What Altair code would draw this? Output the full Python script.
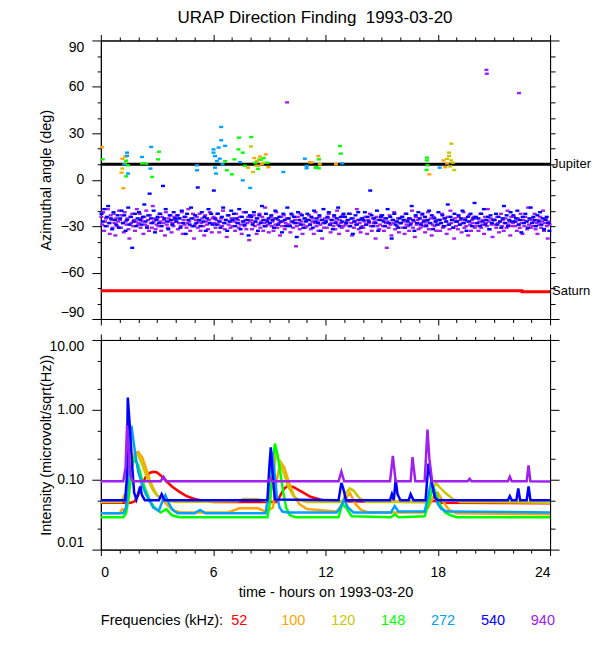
import altair as alt
import pandas as pd

TITLE = "URAP Direction Finding\u00a0 1993-03-20"
FONT = "Liberation Sans"
FREQS = ["52", "100", "120", "148", "272", "540", "940"]
COLORS = ["#ff0000", "#ffa500", "#c8c800", "#00ff00", "#00a0ff", "#0000ff", "#a020f0"]
LEGEND_TITLE = "Frequencies (kHz):"
HOUR_TICKS = list(range(0, 25))
ANGLE_TICKS = list(range(-90, 91, 10))
INT_TICKS = [0.01, 0.02, 0.05, 0.1, 0.2, 0.5, 1, 2, 5, 10]

# ---------------- top panel: planets ----------------
JUPITER_T = [0, 24]
JUPITER_A = [10, 10]
SATURN_T = [0, 22.5, 24]
SATURN_A = [-71.7, -72.4, -72.4]
PLANET_T = [24, 24]
PLANET_A = [10, -72.1]
PLANET_NAMES = ["Jupiter", "Saturn"]

# ---------------- top panel: sparse direction-finding points ----------------
A100_T = [0.07, 1.15, 1.1, 1.2, 1.3, 7.86, 8.2, 8.35, 8.5, 8.81, 8.95, 8.6, 8.4, 11.17, 11.62, 11.7, 11.26, 12.56, 17.55, 18.31, 18.4, 18.5]
A100_A = [21, 13.6, 4.6, -5.5, 15, 7.8, 14, 12, 15, 16.4, 8.1, 10, 9, 11.3, 15.3, 10, 11.2, 10, 3.5, 12.5, 8.1, 10.5]
A120_T = [1.15, 1.3, 8.02, 8.13, 8.3, 8.45, 8.7, 18.72, 18.6, 18.6, 18.72, 18.8, 18.88, 18.66, 18.5]
A120_A = [7.2, 11, 21.5, 5, 9, 13, 11, 23.3, 17.5, 15.3, 12.5, 11, 6.3, 8.6, 13.5]
A148_T = [0.1, 1.35, 1.35, 1.45, 2.43, 2.2, 2.74, 3.06, 3.11, 6.64, 6.73, 7.0, 7.14, 7.35, 7.58, 7.38, 8.03, 7.7, 8.25, 8.55, 8.4, 8.7, 8.9, 11.47, 11.65, 11.65, 11.53, 12.77, 12.82, 17.42, 17.42, 17.45, 17.4]
A148_A = [13.2, 2.2, 12.3, 9.3, 10.4, 10.5, 1.8, 13.2, 18.1, 12, 6.1, 3.5, 13.2, 19.6, 17.5, 27.2, 27.6, 9, 11, 13, 7, 14, 11, 7.8, 13.2, 7.4, 8.1, 21.8, 16.9, 14.3, 12.5, 9.3, 6.3]
A272_T = [1.4, 1.4, 1.45, 1.25, 2.2, 2.69, 2.65, 5.14, 5.14, 6.02, 6.02, 6.1, 6.2, 6.1, 6.15, 6.43, 6.43, 6.64, 6.29, 6.35, 6.5, 7.58, 7.98, 7.44, 9.75, 10.9, 10.99, 11.0, 12.9, 18.1]
A272_A = [17.5, 15.4, 4.0, 10, 14.7, 21.2, 7.2, 9.3, 6.1, 19.6, 17.5, 15.3, 12.1, 7.8, 4, 34.1, 25.5, 21.9, 20.8, 13.6, 10, -0.4, -5.3, 11.4, 5, 13.6, 7.4, 9, 10.6, 7.8]

# ---------------- top panel: dense 540 kHz and 940 kHz bands, one row per hour ----------------
A540_ROWS = [
    [-22, -27, -19, -30, -24, -17, -28, -25, -32, -21, -26, -29, -23, -31],
    [-25, -20, -28, -23, -33, -26, -18, -29, -24, -44, -27, -22, -30, -25],
    [-21, -26, -29, -24, -16, -27, -31, -23, -9, -25, -28, -20, -34, -26],
    [-24, -28, -22, -30, -4, -25, -19, -27, -32, -23, -26, -29, -21, -25],
    [-27, -23, -25, -31, -20, -28, -24, -35, -22, -26, -29, -18, -25, -30],
    [-23, -28, -5, -26, -30, -21, -27, -24, -33, -25, -19, -28, -22, -29],
    [-7, -25, -29, -22, -27, -31, -24, -18, -28, -26, -33, -23, -27, -20],
    [-26, -22, -30, -25, -28, -19, -32, -24, -27, -29, -21, -26, -36, -23],
    [-24, -29, -21, -27, -25, -33, -23, -28, -17, -26, -30, -22, -27, -25],
    [-28, -23, -26, -31, -20, -25, -29, -24, -27, -34, -22, -26, -30, -18],
    [-25, -30, -22, -27, -24, -28, -37, -21, -26, -29, -23, -31, -25, -27],
    [-22, -26, -29, -24, -31, -20, -27, -25, -28, -23, -33, -26, -19, -28],
    [-27, -24, -21, -29, -26, -32, -23, -28, -25, -18, -30, -24, -27, -22],
    [-24, -28, -26, -22, -30, -25, -35, -27, -23, -29, -21, -26, -31, -25],
    [-26, -21, -29, -24, -27, -7, -23, -30, -25, -28, -20, -33, -26, -24],
    [-23, -27, -30, -25, -19, -28, -24, -38, -26, -22, -29, -27, -31, -25],
    [-28, -24, -26, -31, -22, -27, -25, -29, -17, -26, -33, -23, -28, -21],
    [-25, -29, -22, -27, -24, -30, -26, -20, -28, -23, -32, -25, -27, -29],
    [-21, -26, -28, -23, -30, -25, -27, -16, -29, -24, -26, -31, -22, -27],
    [-27, -23, -29, -25, -20, -28, -26, -33, -24, -27, -22, -30, -25, -15],
    [-24, -28, -25, -30, -22, -27, -19, -29, -26, -24, -32, -23, -28, -26],
    [-26, -22, -29, -24, -27, -31, -25, -17, -28, -23, -30, -26, -21, -27],
    [-23, -27, -25, -20, -29, -26, -34, -24, -28, -22, -27, -31, -25, -18],
    [-28, -24, -26, -30, -23, -27, -21, -29, -25, -32, -26, -24, -28, -33],
]
A940_ROWS = [
    [-24, -29, -21, -33, -27, -25, -30, -19, -28, -35, -23, -26, -31, -22, -28, -36, -25, -30, -27, -20],
    [-26, -31, -23, -28, -34, -21, -27, -29, -25, -32, -38, -24, -28, -22, -30, -26, -33, -27, -19, -29],
    [-28, -22, -31, -25, -27, -35, -24, -29, -20, -30, -26, -33, -23, -28, -31, -17, -27, -25, -32, -29],
    [-25, -30, -22, -27, -33, -24, -28, -26, -36, -21, -29, -31, -25, -27, -23, -34, -28, -30, -24, -26],
    [-27, -23, -32, -28, -25, -30, -21, -35, -26, -29, -24, -31, -28, -19, -27, -33, -25, -30, -22, -38],
    [-29, -26, -24, -31, -27, -22, -33, -28, -25, -30, -36, -23, -27, -29, -32, -26, -21, -28, -34, -25],
    [-24, -28, -31, -26, -22, -29, -34, -27, -25, -30, -20, -28, -32, -26, -37, -23, -29, -27, -31, -25],
    [-30, -25, -27, -33, -22, -28, -26, -31, -24, -29, -35, -27, -21, -30, -26, -32, -28, -24, -39, -27],
    [-26, -32, -28, -23, -30, -27, -35, -25, -29, -22, -31, -27, -24, -33, -28, -18, -30, -26, -29, -34],
    [-28, -24, -30, -27, -33, -25, -29, -21, -31, -26, -28, -36, -24, -30, -27, -23, -32, -28, -25, -29],
    [-25, -29, -34, -27, -23, -31, -28, -26, -43, -30, -24, -28, -32, -22, -27, -35, -29, -25, -31, -26],
    [-30, -26, -23, -29, -32, -27, -25, -35, -28, -21, -30, -27, -33, -24, -29, -26, -38, -28, -31, -25],
    [-27, -31, -25, -22, -29, -34, -28, -26, -30, -24, -32, -27, -20, -29, -35, -26, -28, -31, -23, -30],
    [-24, -29, -27, -33, -26, -30, -22, -28, -36, -25, -31, -27, -29, -19, -26, -32, -28, -34, -25, -30],
    [-31, -27, -24, -29, -35, -26, -28, -22, -30, -33, -25, -28, -27, -38, -24, -30, -26, -32, -29, -23],
    [-26, -30, -33, -25, -28, -44, -27, -31, -23, -29, -36, -26, -28, -21, -32, -27, -30, -25, -34, -28],
    [-28, -24, -31, -27, -35, -22, -29, -26, -30, -33, -25, -28, -20, -31, -27, -37, -24, -29, -26, -32],
    [-25, -31, -28, -23, -30, -26, -34, -29, -27, -21, -32, -28, -25, -36, -29, -24, -30, -27, -33, -26],
    [-29, -26, -33, -28, -22, -31, -25, -30, -27, -35, -24, -29, -32, -20, -28, -26, -31, -38, -25, -30],
    [-27, -32, -24, -29, -26, -34, -28, -21, -31, -25, -30, -27, -36, -23, -29, -33, -26, -28, -24, -31],
    [-30, -25, -28, -33, -27, -22, -31, -29, -26, -35, -24, -28, -30, -19, -27, -32, -25, -29, -37, -26],
    [-26, -29, -31, -24, -28, -34, -27, -22, -30, -26, -33, -28, -25, -31, -20, -29, -27, -36, -24, -30],
    [-28, -24, -30, -27, -33, -25, -29, -31, -22, -28, -35, -26, -30, -24, -27, -32, -18, -29, -26, -31],
    [-25, -30, -27, -22, -32, -28, -35, -26, -29, -24, -31, -27, -20, -33, -28, -25, -30, -38, -27, -29],
]
A940_EXTRA_T = [9.95, 20.6, 20.62, 22.34]
A940_EXTRA_A = [50, 71, 68.5, 56]

# ---------------- bottom panel: intensity ----------------
I52_T = [0, 1.6, 1.8, 2.0, 2.2, 2.4, 2.6, 2.8, 3.0, 3.2, 3.5, 3.8, 4.2, 4.6, 5.0, 5.5, 6.0, 9.4, 9.6, 9.8, 10.0, 10.3, 10.7, 11.2, 11.7, 12.2, 17.5, 17.8, 18.2, 24]
I52_V = [0.047, 0.047, 0.049, 0.06, 0.085, 0.11, 0.125, 0.13, 0.127, 0.115, 0.095, 0.08, 0.067, 0.058, 0.053, 0.05, 0.048, 0.048, 0.06, 0.075, 0.082, 0.078, 0.068, 0.057, 0.052, 0.049, 0.048, 0.05, 0.047, 0.046]
I100_T = [0, 1.0, 1.15, 1.3, 1.45, 1.6, 1.8, 2.0, 2.2, 2.4, 2.6, 2.8, 3.0, 3.3, 3.6, 3.9, 4.3, 6.8, 7.4, 8.4, 8.8, 9.2, 9.4, 9.6, 9.8, 10.0, 10.3, 10.6, 11.0, 12.6, 12.9, 13.3, 13.6, 13.9, 14.3, 17.2, 17.5, 17.8, 18.0, 18.3, 18.6, 19.0, 24]
I100_V = [0.033, 0.033, 0.038, 0.036, 0.05, 0.13, 0.24, 0.25, 0.21, 0.15, 0.1, 0.075, 0.06, 0.052, 0.042, 0.036, 0.034, 0.034, 0.039, 0.039, 0.035, 0.04, 0.1, 0.18, 0.15, 0.1, 0.06, 0.045, 0.038, 0.035, 0.045, 0.065, 0.045, 0.037, 0.034, 0.034, 0.04, 0.06, 0.065, 0.048, 0.037, 0.033, 0.032]
I120_T = [0, 1.1, 1.25, 1.4, 1.55, 1.7, 1.85, 2.0, 2.2, 2.4, 2.6, 2.8, 3.0, 3.3, 3.6, 4.0, 7.3, 7.6, 8.3, 8.8, 9.0, 9.2, 9.35, 9.55, 9.8, 10.0, 10.3, 10.6, 11.0, 12.9, 13.1, 13.3, 13.5, 13.8, 14.2, 17.4, 17.7, 17.9, 18.1, 18.4, 18.8, 19.2, 24]
I120_V = [0.048, 0.048, 0.06, 0.055, 0.08, 0.2, 0.25, 0.22, 0.17, 0.12, 0.09, 0.07, 0.06, 0.053, 0.05, 0.048, 0.049, 0.053, 0.053, 0.05, 0.05, 0.1, 0.24, 0.18, 0.12, 0.08, 0.058, 0.051, 0.048, 0.048, 0.065, 0.075, 0.07, 0.055, 0.048, 0.048, 0.07, 0.09, 0.078, 0.065, 0.053, 0.048, 0.047]
I148_T = [0, 1.2, 1.35, 1.5, 1.65, 1.8, 2.0, 2.2, 2.4, 2.6, 2.8, 3.0, 3.2, 3.5, 3.8, 4.2, 8.9, 9.05, 9.2, 9.3, 9.45, 9.6, 9.75, 9.9, 10.1, 10.4, 12.7, 12.9, 13.1, 13.4, 15.5, 15.7, 15.9, 17.3, 17.55, 17.75, 17.95, 18.15, 18.4, 18.7, 19.0, 24]
I148_V = [0.029, 0.029, 0.033, 0.06, 0.15, 0.2, 0.16, 0.1, 0.07, 0.052, 0.042, 0.037, 0.034, 0.038, 0.031, 0.029, 0.029, 0.05, 0.2, 0.33, 0.22, 0.12, 0.065, 0.04, 0.031, 0.029, 0.029, 0.045, 0.04, 0.03, 0.029, 0.032, 0.029, 0.03, 0.05, 0.08, 0.06, 0.042, 0.034, 0.031, 0.029, 0.029]
I272_T = [0, 1.2, 1.35, 1.45, 1.55, 1.65, 1.75, 1.85, 2.0, 2.2, 2.4, 2.6, 2.8, 3.1, 3.3, 3.45, 3.6, 3.8, 4.1, 5.0, 5.3, 5.6, 8.8, 8.95, 9.05, 9.15, 9.25, 9.4, 9.55, 9.7, 10.0, 12.6, 12.8, 13.0, 13.2, 13.5, 15.5, 15.7, 15.9, 17.3, 17.5, 17.65, 17.8, 18.0, 18.2, 18.5, 24]
I272_V = [0.033, 0.033, 0.04, 0.1, 0.5, 0.55, 0.35, 0.22, 0.13, 0.085, 0.063, 0.05, 0.04, 0.036, 0.05, 0.06, 0.048, 0.038, 0.033, 0.033, 0.037, 0.033, 0.033, 0.06, 0.18, 0.25, 0.15, 0.06, 0.04, 0.035, 0.034, 0.034, 0.04, 0.052, 0.04, 0.034, 0.034, 0.042, 0.035, 0.035, 0.06, 0.095, 0.07, 0.045, 0.038, 0.035, 0.034]
I540_T = [0, 1.3, 1.38, 1.44, 1.5, 1.58, 1.68, 1.78, 1.9, 2.1, 2.2, 2.35, 3.1, 3.25, 3.4, 8.9, 9.0, 9.08, 9.18, 9.3, 12.7, 12.85, 12.95, 13.1, 15.45, 15.55, 15.65, 15.75, 15.85, 16.0, 16.45, 16.55, 16.7, 17.35, 17.5, 17.6, 17.7, 17.85, 18.0, 21.75, 21.85, 21.95, 22.2, 22.3, 22.4, 22.75, 22.85, 22.95, 24]
I540_V = [0.051, 0.051, 0.1, 1.5, 0.9, 0.43, 0.15, 0.065, 0.052, 0.08, 0.06, 0.051, 0.051, 0.062, 0.051, 0.051, 0.15, 0.29, 0.12, 0.052, 0.051, 0.09, 0.075, 0.051, 0.051, 0.062, 0.051, 0.1, 0.062, 0.051, 0.051, 0.062, 0.051, 0.051, 0.17, 0.12, 0.085, 0.055, 0.051, 0.051, 0.058, 0.051, 0.051, 0.075, 0.051, 0.051, 0.08, 0.051, 0.051]
I940_T = [0, 1.2, 1.32, 1.4, 1.48, 1.56, 1.7, 3.2, 3.35, 3.5, 8.95, 9.05, 9.15, 12.7, 12.85, 13.0, 15.45, 15.6, 15.75, 16.55, 16.65, 16.8, 17.3, 17.45, 17.55, 17.7, 19.6, 19.7, 19.8, 21.75, 21.85, 21.95, 22.75, 22.85, 22.95, 24]
I940_V = [0.095, 0.095, 0.15, 0.6, 0.3, 0.12, 0.095, 0.095, 0.11, 0.095, 0.095, 0.105, 0.095, 0.095, 0.13, 0.095, 0.095, 0.22, 0.095, 0.095, 0.21, 0.095, 0.095, 0.52, 0.2, 0.095, 0.095, 0.103, 0.095, 0.095, 0.11, 0.095, 0.095, 0.16, 0.095, 0.094]

SPARSE = {"100": (A100_T, A100_A), "120": (A120_T, A120_A), "148": (A148_T, A148_A), "272": (A272_T, A272_A)}
DENSE = {"940": A940_ROWS, "540": A540_ROWS}
INTENSITY = {"52": (I52_T, I52_V), "100": (I100_T, I100_V), "120": (I120_T, I120_V), "148": (I148_T, I148_V),
             "272": (I272_T, I272_V), "540": (I540_T, I540_V), "940": (I940_T, I940_V)}

# ---------------- tables ----------------
rows = []
for f, (ts, aa) in SPARSE.items():
    rows += [{"t": t, "angle": a, "freq": f} for t, a in zip(ts, aa)]
rows += [{"t": t, "angle": a, "freq": "940"} for t, a in zip(A940_EXTRA_T, A940_EXTRA_A)]
for f, hour_rows in DENSE.items():
    for h, row in enumerate(hour_rows):
        rows += [{"t": h + (k + 0.5) / len(row), "angle": a, "freq": f} for k, a in enumerate(row)]
points = pd.DataFrame(rows)
jupiter = pd.DataFrame({"t": JUPITER_T, "angle": JUPITER_A})
saturn = pd.DataFrame({"t": SATURN_T, "angle": SATURN_A})
planets = pd.DataFrame({"t": PLANET_T, "angle": PLANET_A, "name": PLANET_NAMES})
legend_items = pd.DataFrame({"freq": FREQS})
legend_head = pd.DataFrame({"label": [LEGEND_TITLE]})

color = alt.Color("freq:N", scale=alt.Scale(domain=FREQS, range=COLORS), legend=None)
xs = alt.Scale(domain=[0, 24], nice=False, zero=False)
ys_top = alt.Scale(domain=[-90, 90], nice=False, zero=False)
ys_bot = alt.Scale(type="log", domain=[0.01, 10], nice=False)

HMAJ = "datum.value % 6 === 0"

def cond(test, major, minor):
    return {"condition": {"test": test, "value": major}, "value": minor}

ax_x_hidden = dict(values=HOUR_TICKS, labels=False, title=None, grid=False,
                   tickSize=cond(HMAJ, 6, 3.5))
x_bottom_top = alt.Axis(orient="bottom", **ax_x_hidden)
x_top_top = alt.Axis(orient="top", **ax_x_hidden)
y_left_top = alt.Axis(orient="left", values=ANGLE_TICKS, grid=False, title="Azimuthal angle (deg)",
                      labelExpr="datum.value % 30 === 0 ? datum.label : ''",
                      tickSize=cond("datum.value % 30 === 0", 9, 3.7), labelPadding=8,
                      labelFlush=True, labelOverlap=False, titleX=-54, titleBaseline="middle")
y_right_top = alt.Axis(orient="right", values=ANGLE_TICKS, grid=False, title=None, labels=False,
                       tickSize=cond("abs(datum.value) === 90", 9, 5))

jup = alt.Chart(jupiter).mark_line(color="black", strokeWidth=3).encode(
    x=alt.X("t:Q", scale=xs, axis=x_bottom_top), y=alt.Y("angle:Q", scale=ys_top, axis=y_left_top))
sat = alt.Chart(saturn).mark_line(color="#ff0000", strokeWidth=3, interpolate="step-after").encode(
    x=alt.X("t:Q", scale=xs, axis=x_top_top), y=alt.Y("angle:Q", scale=ys_top, axis=y_right_top))
pts = alt.Chart(points).mark_point(shape="M-1,-0.6L1,-0.6L1,0.6L-1,0.6Z", filled=True, size=16, opacity=1).encode(
    x=alt.X("t:Q", scale=xs, axis=None), y=alt.Y("angle:Q", scale=ys_top, axis=None), color=color)
lab = alt.Chart(planets).mark_text(align="left", baseline="middle", dx=2, fontSize=13, color="black").encode(
    x=alt.X("t:Q", scale=xs, axis=None), y=alt.Y("angle:Q", scale=ys_top, axis=None), text="name:N")

top = alt.layer(jup, sat, pts, lab).resolve_axis(x="independent", y="independent").properties(width=450, height=279)

# ---------------- bottom panel ----------------
IMAJ = "indexof([0.01, 0.1, 1, 10], datum.value) >= 0"
x_bottom_bot = alt.Axis(orient="bottom", values=HOUR_TICKS, grid=False, title="time - hours on 1993-03-20",
                        labelExpr="datum.value % 6 === 0 ? datum.label : ''", labelOverlap=False,
                        tickSize=cond(HMAJ, 6, 3.5), labelPadding=10, titlePadding=6)
x_top_bot = alt.Axis(orient="top", **ax_x_hidden)
y_left_bot = alt.Axis(orient="left", values=INT_TICKS, grid=False, title="Intensity (microvolt/sqrt(Hz))",
                      labelExpr=IMAJ + " ? format(datum.value, '.2f') : ''", labelOverlap=False,
                      tickSize=cond(IMAJ, 9, 3.7), labelPadding=8, labelFlush=True,
                      titleX=-54, titleBaseline="middle")
y_right_bot = alt.Axis(orient="right", values=INT_TICKS, grid=False, title=None, labels=False,
                       tickSize=cond(IMAJ, 9, 5))

line_layers = []
for i, f in enumerate(FREQS):
    ts, vs = INTENSITY[f]
    df = pd.DataFrame({"t": ts, "v": vs, "freq": f})
    if i == 0:
        xa, ya = x_bottom_bot, y_left_bot
    elif i == len(FREQS) - 1:
        xa, ya = x_top_bot, y_right_bot
    else:
        xa, ya = None, None
    line_layers.append(alt.Chart(df).mark_line(strokeWidth=2.5).encode(
        x=alt.X("t:Q", scale=xs, axis=xa), y=alt.Y("v:Q", scale=ys_bot, axis=ya), color=color))

bottom = alt.layer(*line_layers).resolve_axis(x="independent", y="independent").properties(width=450, height=210)

# ---------------- frequency legend ----------------
head = alt.Chart(legend_head).mark_text(align="left", baseline="middle", fontSize=14.5, color="black").encode(
    x=alt.value(0), text="label:N")
items = alt.Chart(legend_items).mark_text(align="left", baseline="middle", fontSize=14.5).encode(
    x=alt.X("freq:N", sort=FREQS, scale=alt.Scale(type="point", range=[130.7, 430.7], padding=0), axis=None),
    text="freq:N", color=color)
legend = alt.layer(head, items).properties(width=450, height=14, view=alt.ViewBackground(strokeOpacity=0))

chart = alt.vconcat(
    alt.vconcat(top, bottom, spacing=21, bounds="flush"),
    legend, spacing=14
).properties(
    title=alt.TitleParams(TITLE, fontSize=17, fontWeight="normal", font=FONT, anchor="middle", color="black", offset=7),
    padding={"left": 30, "top": 0, "right": 0, "bottom": 0},
).configure_view(stroke="black", strokeWidth=1).configure_axis(
    labelFont=FONT, titleFont=FONT, labelFontSize=14, titleFontSize=14.5, titleFontWeight="normal",
    labelColor="black", titleColor="black", domainColor="black", tickColor="black", domainWidth=1, tickWidth=1
).configure_text(font=FONT)

chart.save("out.html", embed_options={"renderer": "svg", "actions": False})
